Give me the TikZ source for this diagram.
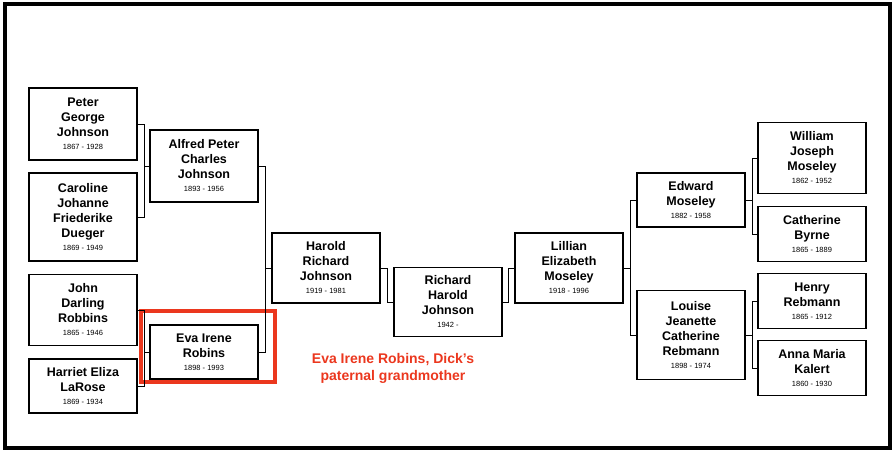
\documentclass[tikz,border=0pt]{standalone}
\usepackage{fontspec}
\setmainfont{Liberation Sans}
\usetikzlibrary{positioning}
\definecolor{markred}{RGB}{235,55,30}
\newcommand{\yrs}[1]{\\[-2pt]{\fontsize{7.5}{8}\selectfont\mdseries #1}}

\begin{document}
\begin{tikzpicture}[x=1pt, y=-1pt,
    % Styles
    person/.style={draw, line width=1.2pt, fill=white, align=center, minimum width=108pt,
        font=\fontsize{12.5}{15}\selectfont\bfseries, inner sep=1pt},
    link/.style={line width=0.8pt},
    highlight/.style={draw=markred, line width=3.5pt},
    note/.style={text=markred, font=\fontsize{14}{17}\selectfont\bfseries, align=center},
]
\useasboundingbox (0,0) rectangle (895,452);
\draw[line width=4pt] (5,4) rectangle (890,448);

% Great-grandparents (left)
\node[person, minimum height=72pt] (peter) at (83,124) {Peter\\George\\Johnson\yrs{1867 - 1928}};
\node[person, minimum height=88pt] (caroline) at (83,217) {Caroline\\Johanne\\Friederike\\Dueger\yrs{1869 - 1949}};
\node[person, minimum height=71pt] (john) at (83,310) {John\\Darling\\Robbins\yrs{1865 - 1946}};
\node[person, minimum height=54pt] (harriet) at (83,386) {Harriet Eliza\\LaRose\yrs{1869 - 1934}};

% Grandparents (left)
\node[person, minimum height=72pt] (alfred) at (204,166) {Alfred Peter\\Charles\\Johnson\yrs{1893 - 1956}};
\node[person, minimum height=54pt] (eva) at (204,352) {Eva Irene\\Robins\yrs{1898 - 1993}};
\draw[highlight] (141,311) rectangle (275,382);

% Parents and root
\node[person, minimum height=70pt] (harold) at (326,268) {Harold\\Richard\\Johnson\yrs{1919 - 1981}};
\node[person, minimum height=69pt] (richard) at (448,302) {Richard\\Harold\\Johnson\yrs{1942 -}};
\node[person, minimum height=70pt] (lillian) at (569,268) {Lillian\\Elizabeth\\Moseley\yrs{1918 - 1996}};

% Grandparents (right)
\node[person, minimum height=54pt] (edward) at (691,200) {Edward\\Moseley\yrs{1882 - 1958}};
\node[person, minimum height=89pt] (louise) at (691,335) {Louise\\Jeanette\\Catherine\\Rebmann\yrs{1898 - 1974}};

% Great-grandparents (right)
\node[person, minimum height=71pt] (william) at (812,158) {William\\Joseph\\Moseley\yrs{1862 - 1952}};
\node[person, minimum height=55pt] (catherine) at (812,234) {Catherine\\Byrne\yrs{1865 - 1889}};
\node[person, minimum height=55pt] (henry) at (812,301) {Henry\\Rebmann\yrs{1865 - 1912}};
\node[person, minimum height=55pt] (anna) at (812,368) {Anna Maria\\Kalert\yrs{1860 - 1930}};

% Brackets
\draw[link] (peter.east) -| (144,0 |- caroline.east) -- (caroline.east);
\draw[link] (alfred.west) -- (144,0 |- alfred.west);
\draw[link] (john.east) -| (144,0 |- harriet.east) -- (harriet.east);
\draw[link] (eva.west) -- (144,0 |- eva.west);
\draw[link] (alfred.east) -| (265,0 |- eva.east) -- (eva.east);
\draw[link] (harold.west) -- (265,0 |- harold.west);
\draw[link] (harold.east) -| (387,0 |- richard.west) -- (richard.west);
\draw[link] (lillian.west) -| (508,0 |- richard.east) -- (richard.east);
\draw[link] (edward.west) -| (630,0 |- louise.west) -- (louise.west);
\draw[link] (lillian.east) -- (630,0 |- lillian.east);
\draw[link] (william.west) -| (752,0 |- catherine.west) -- (catherine.west);
\draw[link] (edward.east) -- (752,0 |- edward.east);
\draw[link] (henry.west) -| (752,0 |- anna.west) -- (anna.west);
\draw[link] (louise.east) -- (752,0 |- louise.east);

% Annotation
\node[note] (evanote) at (393,368) {Eva Irene Robins, Dick's\\paternal grandmother};
\end{tikzpicture}
\end{document}
